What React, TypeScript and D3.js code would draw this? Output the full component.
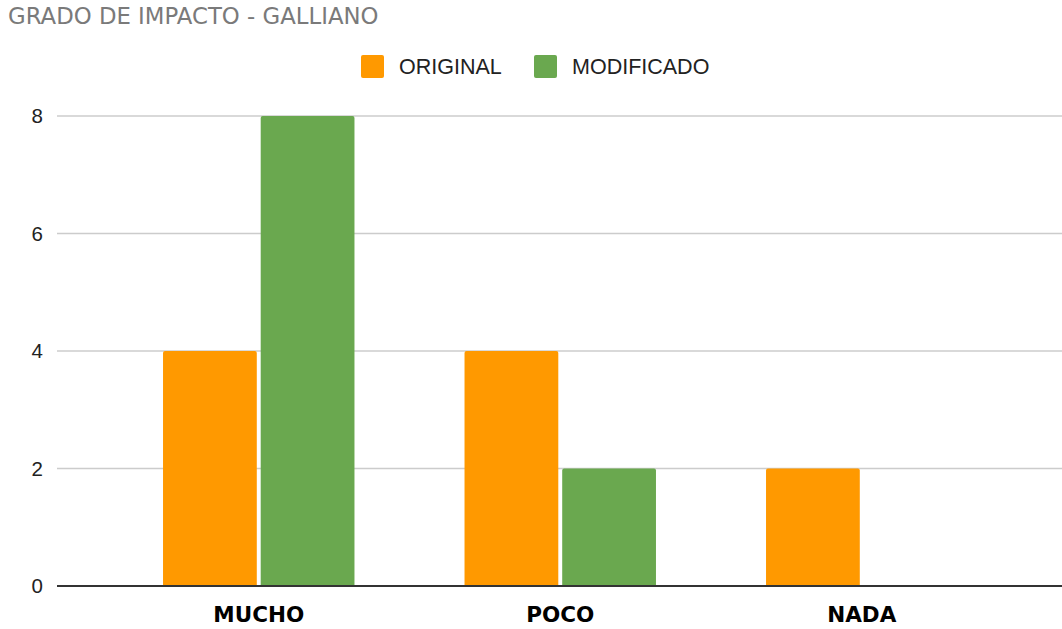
import React from "react";
import * as d3 from "d3";

const categories = ["MUCHO", "POCO", "NADA"];
const seriesNames = ["ORIGINAL", "MODIFICADO"];
const original = [4, 4, 2];
const modificado = [8, 2, 0];
const yTicks = [0, 2, 4, 6, 8];
const colors = ["#ff9900", "#6aa84f"];
const title = "GRADO DE IMPACTO - GALLIANO";

const W = 1062;
const H = 629;

function topRoundedBar(x: number, y: number, w: number, h: number, r: number) {
  if (h <= 0) return "";
  const rr = Math.min(r, h, w / 2);
  const p = d3.path();
  p.moveTo(x, y + h);
  p.lineTo(x, y + rr);
  p.quadraticCurveTo(x, y, x + rr, y);
  p.lineTo(x + w - rr, y);
  p.quadraticCurveTo(x + w, y, x + w, y + rr);
  p.lineTo(x + w, y + h);
  p.closePath();
  return p.toString();
}

export default function App() {
  const plotLeft = 57;
  const plotRight = W;
  const y = d3.scaleLinear().domain([0, 8]).range([586, 116]);
  const x0 = d3
    .scaleBand<string>()
    .domain(categories)
    .range([108, 1012.5])
    .paddingInner(0.365)
    .paddingOuter(0.1825);
  const x1 = d3
    .scaleBand<string>()
    .domain(seriesNames)
    .range([0, x0.bandwidth()])
    .paddingInner(0.04)
    .paddingOuter(0);
  const values = [original, modificado];

  return (
    <svg
      width={W}
      height={H}
      style={{ position: "absolute", left: 0, top: 0, background: "#fff" }}
    >
      <text
        x={8}
        y={24}
        fill="#7a7a7a"
        fontFamily="'DejaVu Sans', sans-serif"
        fontSize={22.8}
      >
        {title}
      </text>

      {/* legend */}
      {seriesNames.map((name, i) => {
        const lx = [361, 534][i];
        return (
          <g key={name}>
            <rect x={lx} y={55} width={23} height={23} rx={2} fill={colors[i]} />
            <text
              x={lx + 38}
              y={74}
              fill="#222"
              fontFamily="'Liberation Sans', Arial, sans-serif"
              fontSize={21.5}
            >
              {name}
            </text>
          </g>
        );
      })}

      {/* gridlines and y labels */}
      {yTicks.map((t) => (
        <g key={t}>
          {t !== 0 && (
            <line
              x1={plotLeft}
              x2={plotRight}
              y1={y(t)}
              y2={y(t)}
              stroke="#cccccc"
              strokeWidth={1.5}
            />
          )}
          <text
            x={43}
            y={y(t)}
            dy="0.36em"
            textAnchor="end"
            fill="#222"
            fontFamily="'Liberation Sans', Arial, sans-serif"
            fontSize={20.5}
          >
            {t}
          </text>
        </g>
      ))}

      {/* bars */}
      {categories.map((c, ci) => (
        <g key={c} transform={`translate(${x0(c)},0)`}>
          {seriesNames.map((s, si) => {
            const v = values[si][ci];
            const top = y(v);
            return (
              <path
                key={s}
                d={topRoundedBar(x1(s)!, top, x1.bandwidth(), y(0) - top, 2)}
                fill={colors[si]}
              />
            );
          })}
        </g>
      ))}

      {/* baseline */}
      <line
        x1={plotLeft}
        x2={plotRight}
        y1={y(0)}
        y2={y(0)}
        stroke="#333333"
        strokeWidth={2}
      />

      {/* category labels */}
      {categories.map((c) => (
        <text
          key={c}
          x={x0(c)! + x0.bandwidth() / 2}
          y={622}
          textAnchor="middle"
          fill="#000"
          fontFamily="'DejaVu Sans', Verdana, sans-serif"
          fontWeight="bold"
          fontSize={21.5}
        >
          {c}
        </text>
      ))}
    </svg>
  );
}
